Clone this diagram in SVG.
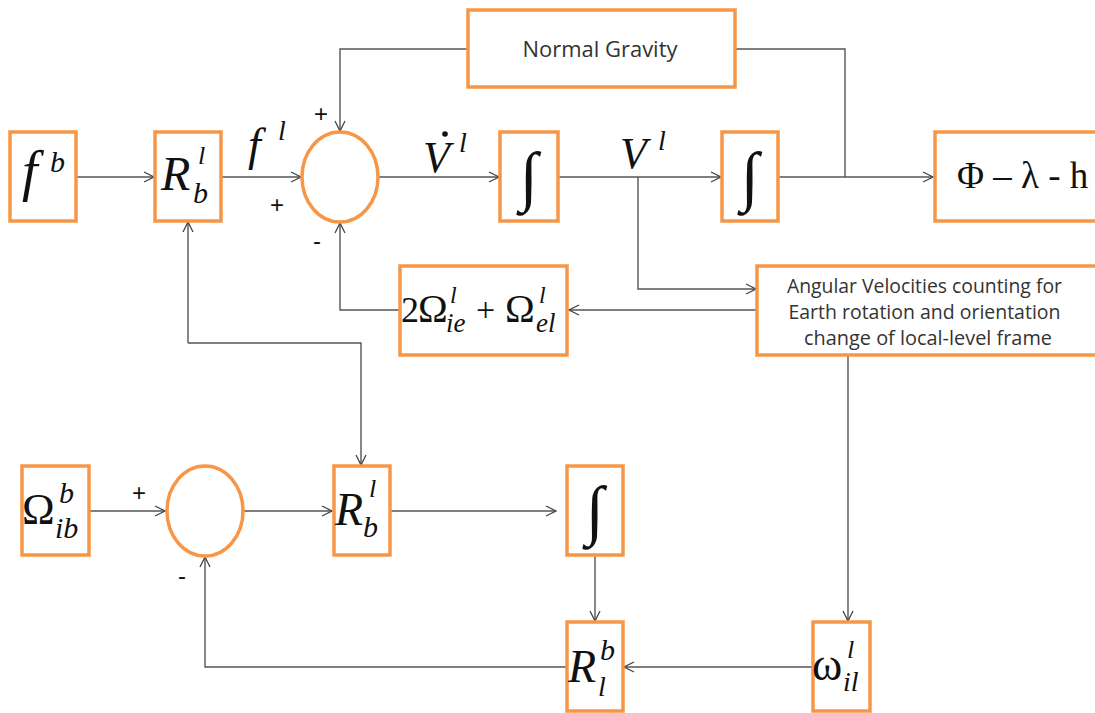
<svg xmlns="http://www.w3.org/2000/svg" width="1095" height="713" viewBox="0 0 1095 713">
<defs>
<marker id="arr" viewBox="0 0 12 12" refX="11" refY="6" markerWidth="12" markerHeight="12" markerUnits="userSpaceOnUse" orient="auto">
<path d="M1,1 L11,6 L1,11" fill="none" stroke="#444" stroke-width="1.3"/>
</marker>
<style>
.box{fill:#fff;stroke:#F79646;stroke-width:3.5}
.ln{fill:none;stroke:#555;stroke-width:1.4}
.ar{fill:none;stroke:#555;stroke-width:1.4;marker-end:url(#arr)}
.m{font-family:"Liberation Serif","DejaVu Serif",serif;font-style:italic;fill:#111}
.r{font-family:"Liberation Serif","DejaVu Serif",serif;fill:#111}
.int{font-family:"Liberation Serif","DejaVu Serif",serif;fill:#111;font-size:66px;text-anchor:middle}
.t{font-family:"Open Sans","Liberation Sans",sans-serif;fill:#333}
.sg{font-family:"Liberation Sans",sans-serif;fill:#111;font-size:24px}
</style>
</defs>
<rect width="1095" height="713" fill="#fff"/>

<g id="connectors">
<path class="ar" d="M76,177 H154"/>
<path class="ar" d="M221,177 H301"/>
<path class="ar" d="M378,177 H499"/>
<path class="ar" d="M558,177 H721"/>
<path class="ar" d="M778,177 H933"/>
<path class="ln" d="M845,177 V49 H735"/>
<path class="ar" d="M468,49 H340 V131"/>
<path class="ar" d="M638,177 V289 H756"/>
<path class="ar" d="M757,310 H569"/>
<path class="ar" d="M399,310 H340 V223"/>
<path class="ar" d="M188,343 V222"/>
<path class="ar" d="M188,343 H361 V465"/>
<path class="ar" d="M848,355 V621"/>
<path class="ar" d="M813,667 H624"/>
<path class="ar" d="M567,667 H205 V557"/>
<path class="ar" d="M88,511 H165"/>
<path class="ar" d="M243,511 H332"/>
<path class="ar" d="M390,511 H556"/>
<path class="ar" d="M595,556 V621"/>
</g>

<g id="normal-gravity">
<rect class="box" x="468" y="10" width="267" height="77"/>
<text class="t" x="600" y="57" font-size="21" text-anchor="middle" textLength="155" lengthAdjust="spacingAndGlyphs">Normal Gravity</text>
</g>

<g id="fb">
<rect class="box" x="10" y="132" width="66" height="89"/>
<text class="m" x="22" y="190" font-size="56">f</text>
<text class="m" x="50" y="172" font-size="30">b</text>
</g>

<g id="Rbl1">
<rect class="box" x="155" y="132" width="66" height="89"/>
<text class="m" x="161" y="190" font-size="48">R</text>
<text class="m" x="198" y="164" font-size="26">l</text>
<text class="m" x="193" y="203" font-size="30">b</text>
</g>

<g id="label-fl">
<text class="m" x="248" y="160" font-size="46">f</text>
<text class="m" x="278" y="140" font-size="28">l</text>
</g>

<g id="sum1">
<ellipse class="box" cx="340" cy="177" rx="38" ry="45"/>
<text class="sg" x="314" y="122">+</text>
<text class="sg" x="270" y="213">+</text>
<text class="sg" x="313" y="249">-</text>
</g>

<g id="label-vdot">
<text class="m" x="423" y="172" font-size="44">V</text>
<circle cx="445" cy="134" r="2.8" fill="#111"/>
<text class="m" x="459" y="152" font-size="28">l</text>
</g>

<g id="int1">
<rect class="box" x="500" y="132" width="58" height="89"/>
<text class="int" x="529" y="198">∫</text>
</g>

<g id="label-vl">
<text class="m" x="620" y="168" font-size="44">V</text>
<text class="m" x="658" y="150" font-size="28">l</text>
</g>

<g id="int2">
<rect class="box" x="722" y="132" width="56" height="89"/>
<text class="int" x="750" y="198">∫</text>
</g>

<g id="plh">
<rect class="box" x="935" y="132" width="170" height="89"/>
<text class="r" x="957" y="188" font-size="37">Φ – λ - h</text>
</g>

<g id="omega-sum">
<rect class="box" x="400" y="266" width="167" height="89"/>
<text class="r" x="401" y="322" font-size="36">2</text>
<text class="r" x="418" y="322" font-size="40">Ω</text>
<text class="m" x="450" y="303" font-size="24">l</text>
<text class="m" x="446" y="332" font-size="27">ie</text>
<text class="r" x="476" y="321" font-size="34">+</text>
<text class="r" x="505" y="322" font-size="40">Ω</text>
<text class="m" x="539" y="303" font-size="24">l</text>
<text class="m" x="536" y="332" font-size="27">el</text>
</g>

<g id="angular">
<rect class="box" x="757" y="266" width="345" height="89"/>
<text class="t" font-size="19.5" text-anchor="middle">
<tspan x="927" y="293" textLength="275" lengthAdjust="spacingAndGlyphs">Angular Velocities counting for</tspan>
<tspan x="927" y="319" textLength="272" lengthAdjust="spacingAndGlyphs">Earth rotation and orientation</tspan>
<tspan x="928" y="345" textLength="248" lengthAdjust="spacingAndGlyphs">change of local-level frame</tspan>
</text>
</g>

<g id="omega-ib">
<rect class="box" x="22" y="466" width="67" height="89"/>
<text class="r" x="22" y="524" font-size="44">Ω</text>
<text class="m" x="59" y="503" font-size="30">b</text>
<text class="m" x="55" y="538" font-size="30">ib</text>
</g>

<g id="sum2">
<ellipse class="box" cx="205" cy="511" rx="38" ry="45"/>
<text class="sg" x="132" y="501">+</text>
<text class="sg" x="178" y="584">-</text>
</g>

<g id="Rbl2">
<rect class="box" x="334" y="466" width="56" height="89"/>
<text class="m" x="335" y="525" font-size="46">R</text>
<text class="m" x="369" y="497" font-size="26">l</text>
<text class="m" x="363" y="537" font-size="30">b</text>
</g>

<g id="int3">
<rect class="box" x="567" y="466" width="56" height="89"/>
<text class="int" x="595" y="532">∫</text>
</g>

<g id="Rlb">
<rect class="box" x="567" y="622" width="56" height="89"/>
<text class="m" x="568" y="682" font-size="46">R</text>
<text class="m" x="600" y="660" font-size="30">b</text>
<text class="m" x="598" y="696" font-size="28">l</text>
</g>

<g id="omega-il">
<rect class="box" x="813" y="622" width="57" height="89"/>
<text class="r" x="812" y="680" font-size="46">ω</text>
<text class="m" x="847" y="658" font-size="26">l</text>
<text class="m" x="843" y="691" font-size="28">il</text>
</g>
</svg>
